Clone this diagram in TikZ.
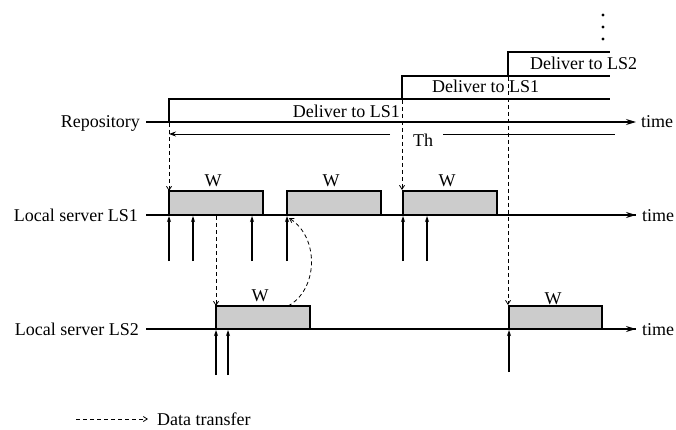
\documentclass[tikz,border=0pt]{standalone}
\usepackage{fontspec}
\setmainfont{Liberation Serif}
\usetikzlibrary{arrows.meta}
\begin{document}
\begin{tikzpicture}[x=1pt,y=-1pt,
  lbl/.style={inner sep=0pt,font=\fontsize{18}{20}\selectfont},
  axis/.style={line width=1.4pt,-{Stealth[length=10pt,width=6pt]}},
  bar/.style={line width=1.1pt},
  wbox/.style={draw,line width=1.3pt,fill=black!20},
  transfer/.style={line width=0.8pt,dash pattern=on 4pt off 3pt,-{Straight Barb[open,length=4pt,width=5pt]}},
  req/.style={line width=1.1pt,-{Stealth[length=6pt,width=4pt]}}]
\useasboundingbox (0,0) rectangle (676,430);

% labels
\node[lbl,anchor=base east] (repo) at (140,128) {Repository};
\node[lbl,anchor=base east] (ls1) at (138,221) {Local server LS1};
\node[lbl,anchor=base east] (ls2) at (139,335) {Local server LS2};
\node[lbl,anchor=base west] (t0) at (641,128) {time};
\node[lbl,anchor=base west] (t1) at (642,222) {time};
\node[lbl,anchor=base west] (t2) at (642,335) {time};

% axes
\coordinate (r0) at (146,122); \coordinate (r1) at (636,122);
\coordinate (a0) at (146,215); \coordinate (a1) at (636,215);
\coordinate (b0) at (146,329); \coordinate (b1) at (636,329);
\draw[axis,line width=1.1pt] (r0) -- (r1);
\draw[axis] (a0) -- (a1);
\draw[axis] (b0) -- (b1);

% delivery bars
\coordinate (d1) at (169,122); \coordinate (d1t) at (169,99);
\coordinate (d2) at (402,99);  \coordinate (d2t) at (402,76);
\coordinate (d3) at (508,76);  \coordinate (d3t) at (508,52);
\draw[bar] (d1) -- (d1t) -- (610,99);
\draw[bar] (d2) -- (d2t) -- (610,76);
\draw[bar] (d3) -- (d3t) -- (610,52);
\node[lbl,anchor=base east] (dl1) at (400,118) {Deliver to LS1};
\node[lbl,anchor=base west] (dl2) at (432,93) {Deliver to LS1};
\node[lbl,anchor=base west] (dl3) at (530,70) {Deliver to LS2};

% dots
\foreach \yy in {15,27,39} \fill (603,\yy) circle (1.6pt);

% Th
\node[lbl,anchor=base west] (th) at (413,147) {Th};
\draw[line width=0.9pt,-{Stealth[length=7pt,width=5pt]}] (390,134) -- (169,134);
\draw[line width=0.9pt] (443,134) -- (615,134);

% W boxes LS1
\draw[wbox] (169,215) rectangle (263,191);
\draw[wbox] (287,215) rectangle (381,191);
\draw[wbox] (403,215) rectangle (497,191);
\node[lbl,anchor=base] (w1) at (213,186) {W};
\node[lbl,anchor=base] (w2) at (331,186) {W};
\node[lbl,anchor=base] (w3) at (447,186) {W};
% W boxes LS2
\draw[wbox] (216,329) rectangle (310,306);
\draw[wbox] (509,329) rectangle (602,306);
\node[lbl,anchor=base] (w4) at (260,301) {W};
\node[lbl,anchor=base] (w5) at (553,304) {W};
\draw[line width=1.4pt] (146,215) -- (636,215);
\draw[line width=1.4pt] (146,329) -- (636,329);

% requests LS1
\foreach \xx in {169,193,252,287,403,427} \draw[req] (\xx,261) -- (\xx,216);
% requests LS2
\foreach \xx in {216,228} \draw[req] (\xx,375) -- (\xx,330);
\draw[req] (509,372) -- (509,330);

% data transfers
\draw[transfer] (169,123) -- (169,191);
\draw[transfer] (216,216) -- (216,306);
\draw[transfer] (402,100) -- (402,190);
\draw[transfer] (508,77) -- (508,305);
\draw[transfer] (288,306) .. controls (318,290) and (320,238) .. (289,218);

% legend
\coordinate (lg0) at (76,419); \coordinate (lg1) at (148,419);
\draw[transfer] (lg0) -- (lg1);
\node[lbl,anchor=base west] (lgt) at (157,425) {Data transfer};
\end{tikzpicture}
\end{document}
